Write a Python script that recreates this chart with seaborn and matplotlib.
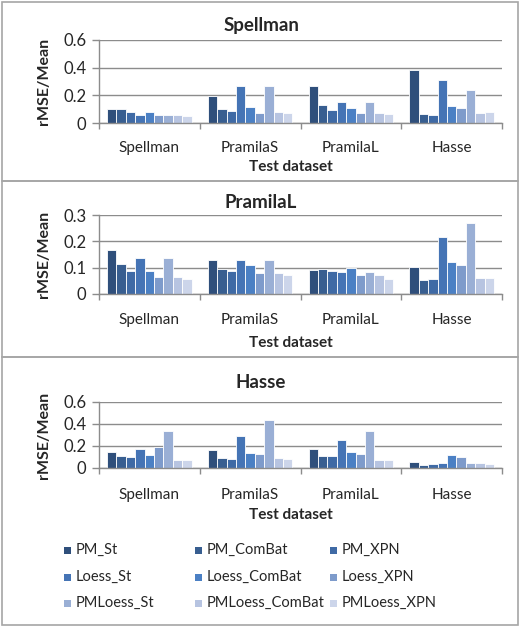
import numpy as np
import pandas as pd
import matplotlib
matplotlib.use("Agg")
import matplotlib.pyplot as plt
from matplotlib.patches import Rectangle
import seaborn as sns

# ---------------- data ----------------
test_sets = ["Spellman", "PramilaS", "PramilaL", "Hasse"]
methods = ["PM_St", "PM_ComBat", "PM_XPN", "Loess_St", "Loess_ComBat",
           "Loess_XPN", "PMLoess_St", "PMLoess_ComBat", "PMLoess_XPN"]
panel_titles = ["Spellman", "PramilaL", "Hasse"]

# values per test set (rows) x method (cols)
spellman_vals = [
    [0.100, 0.100, 0.080, 0.060, 0.080, 0.055, 0.060, 0.055, 0.050],
    [0.195, 0.100, 0.090, 0.265, 0.115, 0.075, 0.265, 0.080, 0.075],
    [0.265, 0.130, 0.095, 0.150, 0.105, 0.075, 0.150, 0.075, 0.065],
    [0.380, 0.065, 0.055, 0.310, 0.120, 0.110, 0.235, 0.075, 0.080],
]
pramilal_vals = [
    [0.168, 0.113, 0.088, 0.138, 0.088, 0.066, 0.138, 0.064, 0.056],
    [0.128, 0.094, 0.088, 0.131, 0.112, 0.080, 0.131, 0.081, 0.074],
    [0.092, 0.095, 0.088, 0.082, 0.098, 0.072, 0.082, 0.071, 0.058],
    [0.101, 0.054, 0.056, 0.218, 0.123, 0.112, 0.270, 0.062, 0.062],
]
hasse_vals = [
    [0.150, 0.105, 0.096, 0.175, 0.120, 0.190, 0.340, 0.075, 0.075],
    [0.160, 0.090, 0.084, 0.290, 0.140, 0.126, 0.435, 0.093, 0.084],
    [0.174, 0.108, 0.105, 0.252, 0.150, 0.130, 0.333, 0.075, 0.070],
    [0.054, 0.030, 0.033, 0.048, 0.114, 0.100, 0.048, 0.048, 0.040],
]
y_max = [0.6, 0.3, 0.6]
y_ticks = [[0, 0.2, 0.4, 0.6], [0, 0.1, 0.2, 0.3], [0, 0.2, 0.4, 0.6]]
y_ticklabels = [["0", "0.2", "0.4", "0.6"], ["0", "0.1", "0.2", "0.3"],
                ["0", "0.2", "0.4", "0.6"]]

colors = ["#2F4F7B", "#385E90", "#3F6AA5", "#4574B5", "#4B80C4",
          "#7E9BCB", "#9AAFD5", "#B7C4E1", "#CCD5EA"]

# ---------------- style ----------------
sns.set_style("white")
FONT = ["Lato", "DejaVu Sans"]
plt.rcParams["font.family"] = FONT

W, H = 522, 627
fig = plt.figure(figsize=(W / 100, H / 100), dpi=100)

def fx(px):
    return px / W

def fy(py):
    return 1 - py / H

axis_gray = "#8C8C8C"

# panel borders
panels = [(2, 2, 518, 181), (2, 181, 518, 357), (2, 357, 518, 625)]
for (x0, y0, x1, y1) in panels:
    fig.add_artist(Rectangle((fx(x0), fy(y1)), fx(x1) - fx(x0), fy(y0) - fy(y1),
                             transform=fig.transFigure, fill=False,
                             edgecolor="#A6A6A6", linewidth=1.2))

# axes positions (left, top, right, bottom) in pixels
axes_px = [(99, 40, 502, 123), (99, 215, 502, 294), (99, 402, 502, 468)]
title_y = [25, 203, 383]
ticklab_y = [148, 320, 495]
xlabel_y = [167, 343, 515]
ylabel_x = 44

all_vals = [spellman_vals, pramilal_vals, hasse_vals]

for i, vals in enumerate(all_vals):
    l, t, r, b = axes_px[i]
    ax = fig.add_axes([fx(l), fy(b), fx(r) - fx(l), fy(t) - fy(b)])
    df = pd.DataFrame(vals, index=test_sets, columns=methods)
    df = df.reset_index().melt(id_vars="index", var_name="Method", value_name="Value")
    df = df.rename(columns={"index": "Test"})
    sns.barplot(data=df, x="Test", y="Value", hue="Method", order=test_sets,
                hue_order=methods, palette=colors, width=0.84, ax=ax,
                edgecolor="white", linewidth=0.6, errorbar=None, legend=False,
                saturation=1)
    ax.set_ylim(0, y_max[i])
    ax.set_xlim(-0.5, 3.5)
    ax.set_yticks(y_ticks[i])
    ax.set_yticklabels(y_ticklabels[i], fontsize=12)
    ax.yaxis.grid(True, color=axis_gray, linewidth=1.0)
    ax.set_axisbelow(True)
    ax.set_xlabel("")
    ax.set_ylabel("")
    for s in ["top", "right"]:
        ax.spines[s].set_visible(False)
    for s in ["left", "bottom"]:
        ax.spines[s].set_color(axis_gray)
        ax.spines[s].set_linewidth(1.0)
    ax.tick_params(axis="y", left=True, length=5, color=axis_gray, width=1.0,
                   pad=4, labelsize=12)
    # category boundary ticks
    ax.set_xticks([-0.5, 0.5, 1.5, 2.5, 3.5], minor=False)
    ax.set_xticklabels([])
    ax.tick_params(axis="x", bottom=True, length=4, color=axis_gray, width=1.0)
    # category labels
    for j, name in enumerate(test_sets):
        cx = l + (r - l) * (j + 0.5) / 4
        fig.text(fx(cx), fy(ticklab_y[i]), name, ha="center", va="center",
                 fontsize=11)
    fig.text(fx(261), fy(title_y[i]), panel_titles[i], ha="center", va="center",
             fontsize=13.5, fontweight="bold")
    fig.text(fx(291), fy(xlabel_y[i]), "Test dataset", ha="center", va="center",
             fontsize=11, fontweight="bold")
    fig.text(fx(ylabel_x), fy((t + b) / 2), "rMSE/Mean", ha="center", va="center",
             rotation=90, fontsize=11.5, fontweight="bold")

# legend (row-wise, 3 columns)
leg_cols_x = [64, 195, 330]
leg_rows_y = [550, 577, 603]
sq = 7
for k, name in enumerate(methods):
    row, col = divmod(k, 3)
    x0 = leg_cols_x[col]
    yc = leg_rows_y[row]
    fig.add_artist(Rectangle((fx(x0), fy(yc + sq / 2)), fx(sq), sq / H,
                             transform=fig.transFigure, facecolor=colors[k],
                             edgecolor="none"))
    fig.text(fx(x0 + sq + 5), fy(yc), name, ha="left", va="center", fontsize=10.5)

fig.savefig("out.png", dpi=100)
